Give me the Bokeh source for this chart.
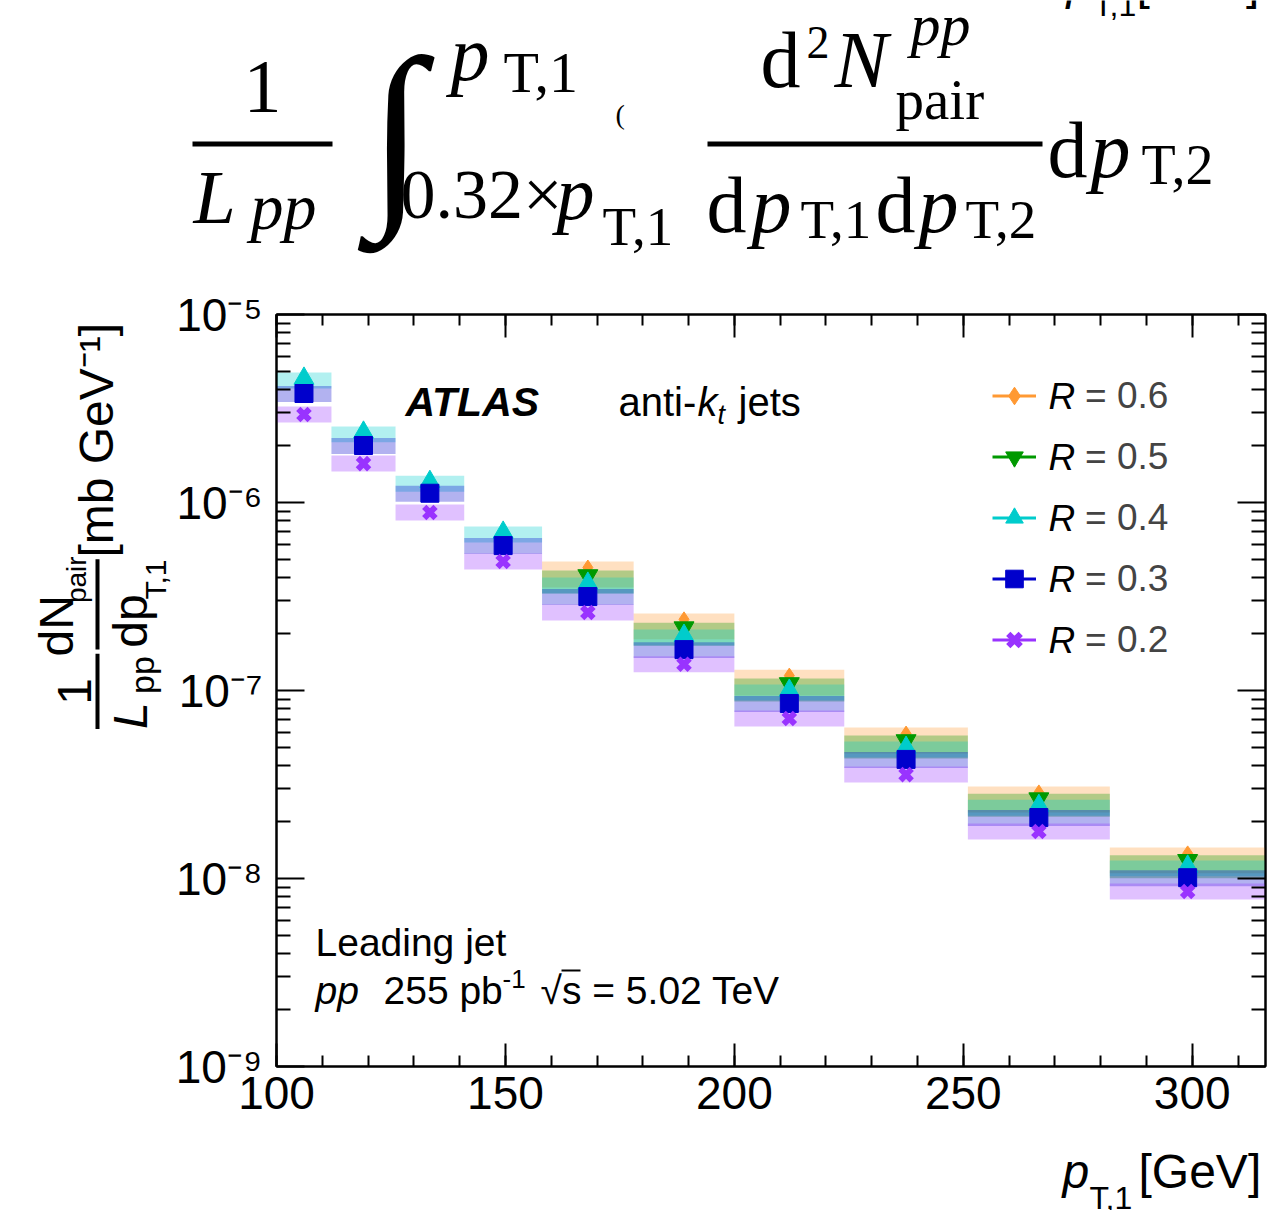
from math import pi
from bokeh.plotting import figure
from bokeh.layouts import column, row
from bokeh.models import (Label, LinearAxis, LogAxis, FixedTicker, BoxAnnotation,
                          SingleIntervalTicker, CustomJSTickFormatter, Legend,
                          LegendItem, Range1d)
from bokeh.embed import file_html
from bokeh.resources import INLINE

# ---------------- data ----------------
bin_edges = [100, 112, 126, 141, 158, 178, 200, 224, 251, 282, 316]
r_values = ["0.6", "0.5", "0.4", "0.3", "0.2"]
NA = float("nan")
yield_r06 = [NA, NA, NA, NA, 4.51e-7, 2.39e-7, 1.20e-7, 5.90e-8, 2.87e-8, 1.36e-8]
yield_r05 = [NA, NA, NA, NA, 4.09e-7, 2.16e-7, 1.09e-7, 5.42e-8, 2.66e-8, 1.25e-8]
yield_r04 = [4.57e-6, 2.36e-6, 1.29e-6, 6.93e-7, 3.71e-7, 1.96e-7, 1.00e-7, 4.97e-8, 2.44e-8, 1.16e-8]
yield_r03 = [3.80e-6, 2.01e-6, 1.12e-6, 5.90e-7, 3.16e-7, 1.65e-7, 8.53e-8, 4.30e-8, 2.11e-8, 1.01e-8]
yield_r02 = [2.94e-6, 1.61e-6, 8.85e-7, 4.86e-7, 2.60e-7, 1.38e-7, 7.10e-8, 3.57e-8, 1.78e-8, 8.53e-9]
sys_up = [0.076, 0.063, 0.076, 0.096, 0.103]   # relative upward systematic
sys_dn = [0.217, 0.198, 0.115, 0.099, 0.093]   # relative downward systematic
y_ticks = [1e-9, 1e-8, 1e-7, 1e-6, 1e-5]

series = [yield_r06, yield_r05, yield_r04, yield_r03, yield_r02]
colors = ["#ff9933", "#009900", "#00cccc", "#0000cc", "#9933ff"]
markers = ["diamond", "inverted_triangle", "triangle", "square", "x"]
msizes = [15, 20, 20, 18, 16]
mlw = [1, 1, 1, 1, 6]

SANS = "Liberation Sans"
SERIF = "Liberation Serif"
TOTAL_W, TOTAL_H = 1270, 1210
TOP_H = 270          # formula strip
LEFT_W = 172         # y-title strip
BOT_H = 80           # x-title strip
MAIN_W = TOTAL_W - LEFT_W
MAIN_H = TOTAL_H - TOP_H - BOT_H
BASE_SHIFT = 0.34    # label anchor sits ~0.34 em above the alphabetic baseline

# ---------------- helper (text-only) figures in pixel coordinates ----------------
def strip(w, h, x0, y0):
    f = figure(width=w, height=h, x_range=Range1d(x0, x0 + w), y_range=Range1d(y0 + h, y0),
               output_backend="svg", toolbar_location=None,
               x_axis_location=None, y_axis_location=None,
               min_border=0, min_border_left=0, min_border_right=0,
               min_border_top=0, min_border_bottom=0)
    f.outline_line_color = None
    f.grid.visible = False
    f.background_fill_color = "white"
    f.border_fill_color = "white"
    return f

top_fig = strip(TOTAL_W, TOP_H, 0, 0)
left_fig = strip(LEFT_W, MAIN_H, 0, TOP_H)
bot_fig = strip(TOTAL_W, BOT_H, 0, TOP_H + MAIN_H)

def txt(f, ix, iy, s, size, font=SANS, style="normal", align="left", rotated=False):
    if rotated:
        x, y, ang = ix - BASE_SHIFT * size, iy, pi / 2
    else:
        x, y, ang = ix, iy - BASE_SHIFT * size, 0.0
    f.add_layout(Label(x=x, y=y, text=s, text_font=font, text_font_size=f"{size}px",
                       text_font_style=style, text_align=align, text_baseline="alphabetic",
                       angle=ang, text_color="black"))

def bar(f, x0, x1, y0, y1):
    f.quad(left=[x0], right=[x1], top=[y0], bottom=[y1], fill_color="black", line_color=None)

# ---------------- main figure ----------------
FL, FT, FH = 104, 44, 752          # frame inside main figure
FR = 5
FB = MAIN_H - FT - FH

p = figure(width=MAIN_W, height=MAIN_H, x_range=Range1d(100, 316), y_range=Range1d(1e-9, 1e-5),
           y_axis_type="log", output_backend="svg", toolbar_location=None,
           min_border_left=FL, min_border_right=FR, min_border_top=FT, min_border_bottom=FB)
p.background_fill_color = "white"
p.border_fill_color = "white"
p.outline_line_color = "black"
p.outline_line_width = 2
p.grid.visible = False

xt = SingleIntervalTicker(interval=50, num_minor_ticks=5)
minor_y = [k * 10.0 ** e for e in range(-9, -5) for k in range(2, 10)]
yt = FixedTicker(ticks=y_ticks, minor_ticks=minor_y)
blank = CustomJSTickFormatter(code="return ''")
pow_fmt = CustomJSTickFormatter(code="""
const sup = {'0':'\u2070','1':'\u00b9','2':'\u00b2','3':'\u00b3','4':'\u2074',
             '5':'\u2075','6':'\u2076','7':'\u2077','8':'\u2078','9':'\u2079','-':'\u207b'};
const e = Math.round(Math.log10(tick));
return '10' + String(e).split('').map(c => sup[c]).join('');
""")

xa = p.xaxis[0]
xa.ticker = xt
xa.major_label_text_font = SANS
xa.major_label_text_font_size = "46px"
xa.major_label_text_color = "black"
xa.major_label_standoff = 10

ya = p.yaxis[0]
ya.ticker = yt
ya.formatter = pow_fmt
ya.major_label_text_font = SANS
ya.major_label_text_font_size = "46px"
ya.major_label_text_color = "black"
ya.major_label_standoff = 14

top_ax = LinearAxis(ticker=xt, formatter=blank)
right_ax = LogAxis(ticker=yt, formatter=blank)
p.add_layout(top_ax, "above")
p.add_layout(right_ax, "right")

for ax in [xa, top_ax]:
    ax.major_tick_in = 23
    ax.major_tick_out = 0
    ax.minor_tick_in = 11
    ax.minor_tick_out = 0
for ax in [ya, right_ax]:
    ax.major_tick_in = 28
    ax.major_tick_out = 0
    ax.minor_tick_in = 14
    ax.minor_tick_out = 0
for ax in [xa, ya, top_ax, right_ax]:
    ax.axis_line_width = 2
    ax.major_tick_line_width = 2
    ax.minor_tick_line_width = 2
for ax in [top_ax, right_ax]:
    ax.major_label_standoff = 0
    ax.axis_label_standoff = 0

# bands + markers
lefts = bin_edges[:-1]
rights = bin_edges[1:]
centers = [(a + b) / 2 for a, b in zip(lefts, rights)]

for i, ys in enumerate(series):
    idx = [k for k, v in enumerate(ys) if v == v]
    p.quad(left=[lefts[k] for k in idx], right=[rights[k] for k in idx],
           bottom=[ys[k] * (1 - sys_dn[i]) for k in idx],
           top=[ys[k] * (1 + sys_up[i]) for k in idx],
           fill_color=colors[i], fill_alpha=0.3, line_color=None)

scat = []
for i, ys in enumerate(series):
    idx = [k for k, v in enumerate(ys) if v == v]
    r = p.scatter(x=[centers[k] for k in idx], y=[ys[k] for k in idx], marker=markers[i],
                  size=msizes[i], fill_color=colors[i], line_color=colors[i], line_width=mlw[i])
    scat.append(r)

items = []
for i in range(5):
    lr = p.line(x=[NA, NA], y=[NA, NA], line_color=colors[i], line_width=3)
    items.append(LegendItem(label="= " + r_values[i], renderers=[lr, scat[i]]))
legend = Legend(items=items, location=(716, 404), orientation="vertical",
                glyph_width=44, glyph_height=45, label_height=45, spacing=16,
                padding=0, margin=0, label_standoff=49, border_line_color=None,
                background_fill_alpha=0, label_text_font=SANS,
                label_text_font_size="37px", label_text_baseline="middle")
p.add_layout(legend)

# texts inside the main frame (image pixel coords -> frame screen coords)
FRAME_L, FRAME_B = LEFT_W + FL, TOP_H + FT + FH

def ftxt(ix, iy, s, size, style="normal", base="alphabetic"):
    yy = iy - BASE_SHIFT * size if base == "alphabetic" else iy
    p.add_layout(Label(x=ix - FRAME_L, y=FRAME_B - yy, x_units="screen", y_units="screen",
                       text=s, text_font=SANS, text_font_size=f"{size}px",
                       text_font_style=style, text_baseline=base, text_color="black"))

for i in range(5):
    ftxt(1048, 395.5 + 61 * i, "R", 37, style="italic", base="middle")
ftxt(405, 415, "ATLAS", 41, style="bold italic")
ftxt(618, 415, "anti-", 40)
ftxt(697, 415, "k", 40, style="italic")
ftxt(717, 424, "t", 27, style="italic")
ftxt(738, 415, "jets", 40)
ftxt(315, 955, "Leading jet", 39)
ftxt(315, 1003, "pp", 39, style="italic")
ftxt(383, 1003, "255 pb", 39)
ftxt(502, 987, "-1", 26)
ftxt(540, 1003, "\u221as = 5.02 TeV", 39)
p.add_layout(BoxAnnotation(left=561 - FRAME_L, right=580 - FRAME_L,
                           top=FRAME_B - 969, bottom=FRAME_B - 971,
                           left_units="screen", right_units="screen",
                           top_units="screen", bottom_units="screen",
                           fill_color="black", fill_alpha=1.0, line_color=None))

# ---------------- x-axis title ----------------
txt(bot_fig, 1062, 1187, "p", 48, style="italic")
txt(bot_fig, 1089, 1208, "T,1", 32)
txt(bot_fig, 1138, 1187, "[GeV]", 48)

# ---------------- y-axis title (rotated) ----------------
txt(left_fig, 90, 701, "1", 48, align="center", rotated=True)
bar(left_fig, 95, 99, 658, 744)
txt(left_fig, 146, 744, "L", 48, style="italic", rotated=True)
txt(left_fig, 153, 704, "pp", 34, rotated=True)
txt(left_fig, 72, 661, "dN", 48, rotated=True)
txt(left_fig, 86, 600, "pair", 28, rotated=True)
bar(left_fig, 95, 99, 550, 653)
txt(left_fig, 146, 651, "dp", 48, rotated=True)
txt(left_fig, 165, 596, "T,1", 30, rotated=True)
txt(left_fig, 112, 548, "[mb GeV\u207b\u00b9]", 48, rotated=True)

# ---------------- formula strip ----------------
T = top_fig
txt(T, 1066, -2, "p", 48, style="italic")
txt(T, 1093, 15, "T,1", 32)
txt(T, 1136, -2, "[GeV]", 48)

txt(T, 262, 112, "1", 76, font=SERIF, align="center")
bar(T, 192, 332, 141, 146)
txt(T, 193, 222, "L", 76, font=SERIF, style="italic")
txt(T, 250, 228, "pp", 66, font=SERIF, style="italic")
txt(T, 368, 199, "\u222b", 203, font=SERIF, style="italic")
txt(T, 450, 80, "p", 78, font=SERIF, style="italic")
txt(T, 503, 92, "T,1", 58, font=SERIF)
txt(T, 400, 218, "0.32\u00d7", 70, font=SERIF)
txt(T, 556, 218, "p", 76, font=SERIF, style="italic")
txt(T, 602, 245, "T,1", 55, font=SERIF)
txt(T, 615, 124, "(", 28, font=SERIF)
txt(T, 760, 87, "d", 80, font=SERIF)
txt(T, 806, 58, "2", 46, font=SERIF)
txt(T, 834, 87, "N", 80, font=SERIF, style="italic")
txt(T, 910, 45, "pp", 60, font=SERIF, style="italic")
txt(T, 895, 118, "pair", 57, font=SERIF)
bar(T, 707, 1042, 141, 146)
txt(T, 706, 232, "d", 80, font=SERIF)
txt(T, 751, 232, "p", 80, font=SERIF, style="italic")
txt(T, 800, 238, "T,1", 55, font=SERIF)
txt(T, 875, 232, "d", 80, font=SERIF)
txt(T, 918, 232, "p", 80, font=SERIF, style="italic")
txt(T, 965, 238, "T,2", 55, font=SERIF)
txt(T, 1047, 177, "d", 80, font=SERIF)
txt(T, 1090, 177, "p", 80, font=SERIF, style="italic")
txt(T, 1141, 184, "T,2", 56, font=SERIF)

layout = column(top_fig, row(left_fig, p), bot_fig)
open("out.html", "w").write(file_html(layout, INLINE))
